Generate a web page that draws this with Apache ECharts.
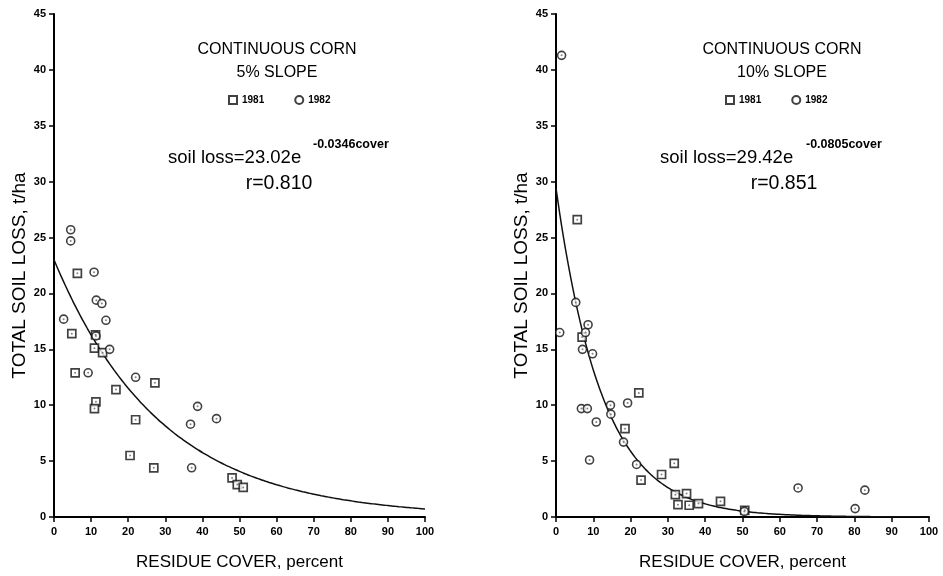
<!DOCTYPE html>
<html>
<head>
<meta charset="utf-8">
<script src="https://cdn.jsdelivr.net/npm/echarts@6/dist/echarts.min.js"></script>
<style>html,body{margin:0;padding:0;background:#fff}#c{width:943px;height:576px}</style>
</head>
<body>
<div id="c"></div>
<script>
// ---- data ----
const xTicks = [0,10,20,30,40,50,60,70,80,90,100];
const yTicks = [0,5,10,15,20,25,30,35,40,45];
const panelTitles = ['CONTINUOUS CORN','CONTINUOUS CORN'];
const panelSlopes = ['5% SLOPE','10% SLOPE'];
const fitA = [23.02, 29.42];
const fitB = [0.0346, 0.0805];
const fitR = ['0.810','0.851'];
const left1981 = [[6.3,21.8],[4.8,16.4],[11.2,16.3],[10.9,15.1],[13.1,14.7],[5.7,12.9],[11.3,10.3],[10.9,9.7],[16.7,11.4],[27.2,12.0],[22.0,8.7],[20.5,5.5],[26.9,4.4],[48.0,3.5],[49.4,2.9],[51.0,2.65]];
const left1982 = [[4.5,25.7],[4.5,24.7],[10.8,21.9],[11.4,19.4],[12.9,19.1],[2.6,17.7],[14.0,17.6],[11.3,16.2],[15.0,15.0],[9.2,12.9],[22.0,12.5],[38.7,9.9],[36.8,8.3],[43.8,8.8],[37.1,4.4]];
const right1981 = [[5.7,26.6],[7.0,16.1],[22.2,11.1],[18.5,7.9],[22.8,3.3],[31.7,4.8],[28.3,3.8],[32.0,2.0],[35.0,2.1],[32.7,1.1],[35.7,1.05],[38.2,1.2],[44.1,1.4],[50.6,0.6]];
const right1982 = [[1.5,41.3],[1.0,16.5],[5.3,19.2],[8.6,17.2],[7.9,16.5],[7.1,15.0],[9.8,14.6],[6.8,9.7],[8.4,9.7],[9.0,5.1],[19.2,10.2],[14.6,10.0],[14.7,9.2],[10.8,8.5],[18.1,6.7],[21.6,4.7],[50.5,0.5],[64.9,2.6],[80.2,0.75],[82.8,2.4]];

// fitted curve from the regression equation printed on the chart
function fitCurve(a,b){const pts=[];for(let x=0;x<=100;x+=1){pts.push([x,a*Math.exp(-b*x)]);}return pts;}

const FONT = '"Liberation Sans", Arial, Helvetica, sans-serif';
const grids = [
  {left:54, top:14, width:371, height:512},
  {left:556, top:14, width:373, height:512}
];
const xAxes=[], yAxes=[];
grids.forEach((g,i)=>{
  xAxes.push({type:'value',gridIndex:i,min:0,max:100,interval:10,
    name:'RESIDUE COVER, percent',nameLocation:'middle',nameGap:37,
    nameTextStyle:{fontFamily:FONT,fontSize:17,color:'#000'},
    axisLine:{lineStyle:{color:'#000',width:2}},
    axisTick:{length:5,lineStyle:{color:'#000',width:1.5}},
    axisLabel:{fontFamily:FONT,fontSize:11,fontWeight:'bold',color:'#000',margin:9},
    splitLine:{show:false}});
  yAxes.push({type:'value',gridIndex:i,min:0,max:45,interval:5,
    name:'TOTAL SOIL LOSS, t/ha',nameLocation:'middle',nameGap:25,nameRotate:90,
    nameTextStyle:{fontFamily:FONT,fontSize:19,color:'#000',padding:[0,20,0,0]},
    axisLine:{lineStyle:{color:'#000',width:2}},
    axisTick:{length:5,lineStyle:{color:'#000',width:1.5}},
    axisLabel:{fontFamily:FONT,fontSize:11,fontWeight:'bold',color:'#000',margin:8},
    splitLine:{show:false}});
});
grids.forEach((g,i)=>{
  xAxes.push({type:'value',gridIndex:i,min:0,max:100,interval:10,
    axisLine:{show:false},axisTick:{inside:true,length:5,lineStyle:{color:'#000',width:1.5}},
    axisLabel:{show:false},splitLine:{show:false}});
  yAxes.push({type:'value',gridIndex:i,min:0,max:45,interval:5,
    axisLine:{show:false},axisTick:{inside:true,length:5,lineStyle:{color:'#000',width:1.5}},
    axisLabel:{show:false},splitLine:{show:false}});
});

const sq = {color:'#fff',borderColor:'#111',borderWidth:1.7};
const ci = {color:'#fff',borderColor:'#111',borderWidth:1.6};
const series=[];
[[left1981,left1982],[right1981,right1982]].forEach((pair,i)=>{
  series.push({type:'line',xAxisIndex:i,yAxisIndex:i,data:fitCurve(fitA[i],fitB[i]),
    showSymbol:false,smooth:true,lineStyle:{color:'#111',width:1.5},silent:true,z:3});
  series.push({name:'1981',type:'scatter',xAxisIndex:i,yAxisIndex:i,data:pair[0],
    symbol:'rect',symbolSize:8,itemStyle:sq,z:4});
  series.push({name:'1982',type:'scatter',xAxisIndex:i,yAxisIndex:i,data:pair[1],
    symbol:'circle',symbolSize:8,itemStyle:ci,z:4});
  series.push({name:'dot',type:'scatter',xAxisIndex:i,yAxisIndex:i,data:pair[0].concat(pair[1]),
    symbol:'circle',symbolSize:2,itemStyle:{color:'#666'},silent:true,z:5});
});

const legends = [
  {data:['1981','1982'],left:228,top:95,itemWidth:8,itemHeight:8,itemGap:30,
   textStyle:{fontFamily:FONT,fontSize:10,fontWeight:'bold',color:'#000'},selectedMode:false,padding:0},
  {data:['1981','1982'],left:725,top:95,itemWidth:8,itemHeight:8,itemGap:30,
   textStyle:{fontFamily:FONT,fontSize:10,fontWeight:'bold',color:'#000'},selectedMode:false,padding:0}
];

function txt(x,y,text,size,align,weight){
  return {type:'text',x:x,y:y,silent:true,style:{text:text,fontFamily:FONT,fontSize:size,
    fontWeight:weight||'normal',fill:'#000',textAlign:align,textVerticalAlign:'middle'}};
}
const graphic=[];
const cx=[277,782], eqL=[168,660], supL=[313,806];
[0,1].forEach(i=>{
  graphic.push(txt(cx[i],50,panelTitles[i],16,'center'));
  graphic.push(txt(cx[i],73,panelSlopes[i],16,'center'));
  graphic.push(txt(eqL[i],158,'soil loss=' + fitA[i].toFixed(2) + 'e',18.5,'left'));
  graphic.push(txt(supL[i],145,'-' + fitB[i].toFixed(4) + 'cover',12.5,'left','bold'));
  graphic.push(txt(cx[i]+2,184,'r=' + fitR[i],19.5,'center'));
});

const chart = echarts.init(document.getElementById('c'));
chart.setOption({
  backgroundColor:'#fff',
  animation:false,
  grid:grids,
  xAxis:xAxes,
  yAxis:yAxes,
  legend:legends,
  series:series,
  graphic:graphic
});
</script>
</body>
</html>
